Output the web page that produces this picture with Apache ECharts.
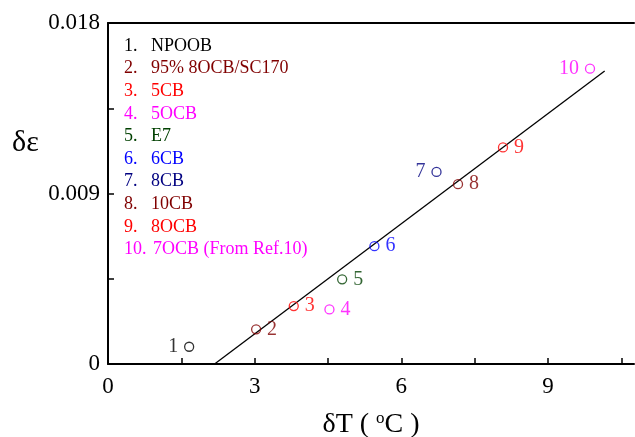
<!DOCTYPE html>
<html>
<head>
<meta charset="utf-8">
<script src="https://cdn.jsdelivr.net/npm/echarts@6/dist/echarts.min.js"></script>
<style>html,body{margin:0;padding:0;background:#fff}#c{width:635px;height:437px}</style>
</head>
<body>
<div id="c"></div>
<script>
const names = ['NPOOB', '95% 8OCB/SC170', '5CB', '5OCB', 'E7', '6CB', '8CB', '10CB', '8OCB', '7OCB (From Ref.10)'];
const numbers = ['1', '2', '3', '4', '5', '6', '7', '8', '9', '10'];
const deltaT = [1.66, 3.03, 3.80, 4.53, 4.79, 5.45, 6.72, 7.16, 8.08, 9.86];
const deltaEps = [0.00091, 0.00183, 0.00306, 0.00288, 0.00447, 0.00622, 0.01014, 0.00949, 0.01143, 0.01559];
const colors = ['#000000', '#800000', '#ff0000', '#ff00ff', '#004000', '#0000ff', '#000080', '#800000', '#ff0000', '#ff00ff'];
const labelSide = ['left', 'right', 'right', 'right', 'right', 'right', 'left', 'right', 'right', 'left'];
const fitT = [2.18, 10.16];
const fitEps = [0, 0.01547];
const xTicks = [0, 3, 6, 9];
const yTicks = [0, 0.009, 0.018];

const serif = '"Liberation Serif", "DejaVu Serif", serif';
const chart = echarts.init(document.getElementById('c'), null, {renderer: 'canvas'});

const scatterData = deltaT.map((t, i) => ({
  value: [t, deltaEps[i]],
  itemStyle: {color: 'none', borderColor: colors[i]},
  label: {show: true, formatter: numbers[i], position: labelSide[i], color: colors[i]}
}));

const legendGraphics = names.map((n, i) => ({
  type: 'group',
  left: 124,
  top: 37 + i * 22.6,
  children: [
    {type: 'text', x: 0, y: 0, style: {text: numbers[i] + '.', fill: colors[i], font: '18px ' + serif}},
    {type: 'text', x: i === 9 ? 29 : 27, y: 0, style: {text: n, fill: colors[i], font: '18px ' + serif}}
  ]
}));

legendGraphics.push({
  type: 'text', left: 12, top: 128,
  style: {text: 'δε', fill: '#000', font: '30px ' + serif}
});

chart.setOption({
  animation: false,
  backgroundColor: '#fff',
  grid: {left: 108, right: 1, top: 23, bottom: 73, containLabel: false, outerBoundsMode: 'none'},
  xAxis: [{
    type: 'value', min: 0, max: 10.76, interval: 1.5,
    name: 'δT ( {sup|o}C )', nameLocation: 'middle', nameGap: 46,
    nameTextStyle: {fontFamily: serif, fontSize: 28, color: '#000',
      rich: {sup: {fontFamily: serif, fontSize: 17, verticalAlign: 'top', padding: [0, 0, 12, 0]}}},
    axisLine: {lineStyle: {color: '#000', width: 2}},
    axisTick: {inside: true, length: 6, lineStyle: {color: '#000', width: 1.5}, customValues: [0, 1.5, 3, 4.5, 6, 7.5, 9, 10.5]},
    axisLabel: {customValues: xTicks, fontFamily: serif, fontSize: 23, color: '#000', margin: 11},
    splitLine: {show: false}
  }, {
    type: 'value', position: 'top', min: 0, max: 10.76,
    axisLine: {show: true, onZero: false, lineStyle: {color: '#000', width: 2}},
    axisTick: {show: false}, axisLabel: {show: false}, splitLine: {show: false}
  }],
  yAxis: {
    type: 'value', min: 0, max: 0.018, interval: 0.0045,
    axisLine: {show: true, lineStyle: {color: '#000', width: 2}},
    axisTick: {inside: true, length: 6, lineStyle: {color: '#000', width: 1.5}},
    axisLabel: {customValues: yTicks, fontFamily: serif, fontSize: 23, color: '#000', margin: 8,
      formatter: v => v === 0 ? '0' : v.toFixed(3)},
    splitLine: {show: false}
  },
  graphic: legendGraphics,
  series: [{
    type: 'line',
    data: fitT.map((t, i) => [t, fitEps[i]]),
    symbol: 'none',
    lineStyle: {color: '#000', width: 1.3},
    z: 1
  }, {
    type: 'scatter',
    data: scatterData,
    symbol: 'circle',
    symbolSize: 9,
    itemStyle: {borderWidth: 1.3},
    label: {fontFamily: serif, fontSize: 20, distance: 4},
    z: 3
  }]
});
</script>
</body>
</html>
